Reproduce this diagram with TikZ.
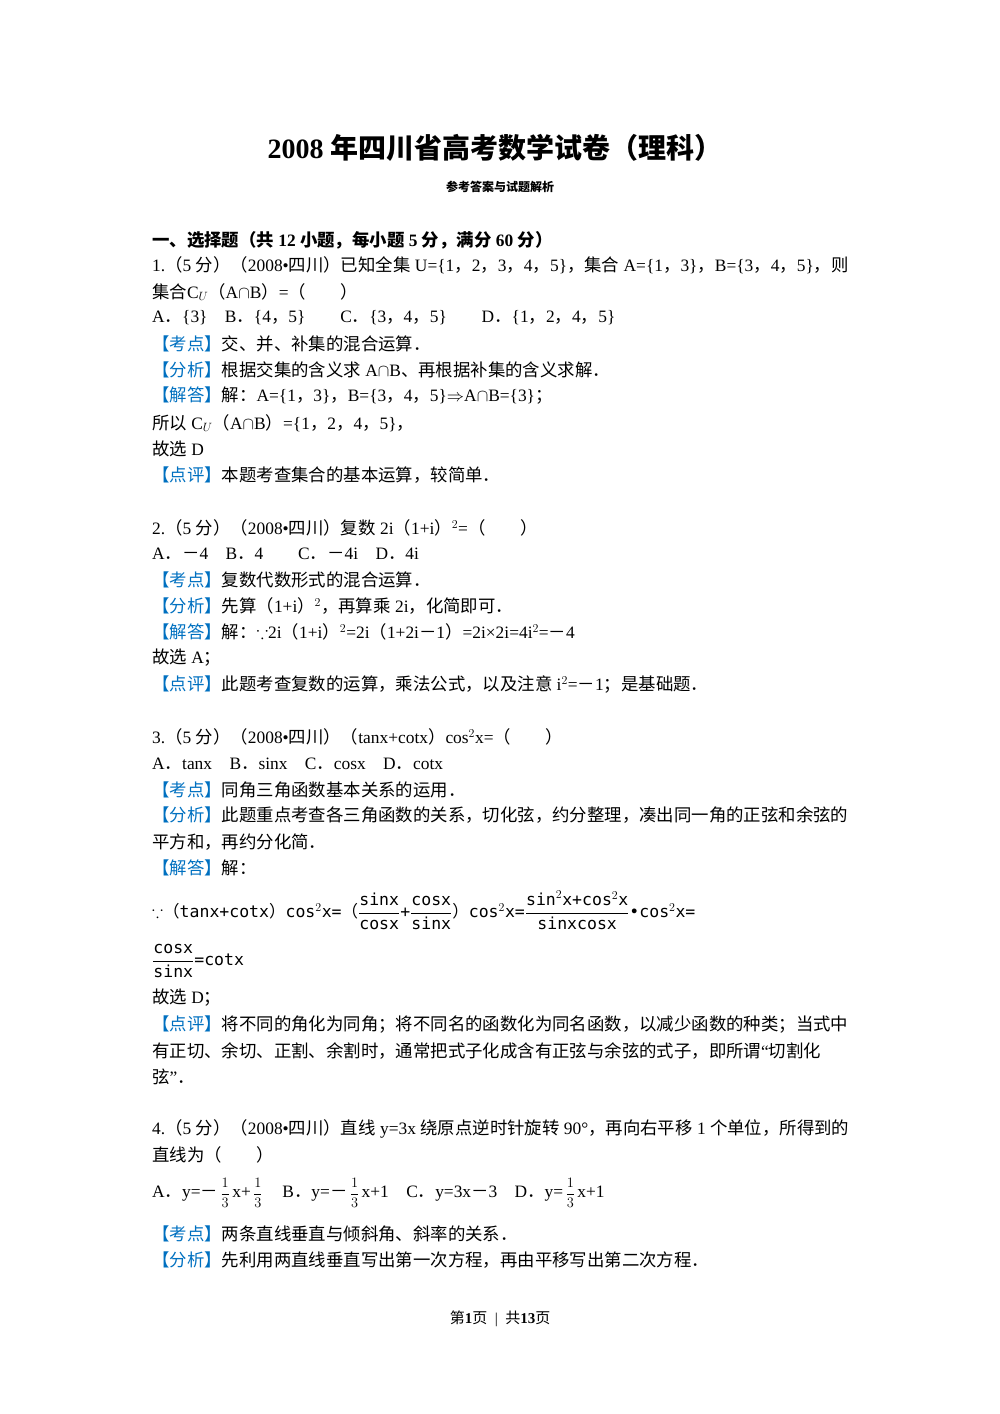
\documentclass[tikz,border=0pt]{standalone}
\usepackage{amsmath,amssymb}
\usepackage{fontspec}
\setmainfont{Liberation Serif}
\newfontfamily\cjk{Noto Sans CJK SC}
\newfontfamily\frm{DejaVu Sans Mono}
\XeTeXinterchartokenstate=1
\newXeTeXintercharclass\CJKcls
\newcount\cc
\cc="3000 \loop \XeTeXcharclass\cc=\CJKcls \ifnum\cc<"303F \advance\cc 1 \repeat
\cc="4E00 \loop \XeTeXcharclass\cc=\CJKcls \ifnum\cc<"9FFF \advance\cc 1 \repeat
\cc="FF00 \loop \XeTeXcharclass\cc=\CJKcls \ifnum\cc<"FFEF \advance\cc 1 \repeat
\XeTeXinterchartoks 0 \CJKcls={\begingroup\cjk}
\XeTeXinterchartoks 4095 \CJKcls={\begingroup\cjk}
\XeTeXinterchartoks \CJKcls 0={\endgroup}
\XeTeXinterchartoks \CJKcls 4095={\endgroup}
\definecolor{kblue}{RGB}{0,112,192}
\newcommand\kd[1]{{\color{kblue}【#1】}}
\newcommand\thr{{\fontsize{15}{18}\selectfont$\,\dfrac{1}{3}\,$}}
\tikzset{ln/.style={anchor=west,inner sep=0pt,font=\fontsize{17.4}{20}\selectfont},
 ctr/.style={anchor=center,inner sep=0pt}}
\begin{document}
\begin{tikzpicture}[x=1pt,y=-1pt]
\useasboundingbox (0,0) rectangle (1000,1414);
\node[ctr,font=\fontsize{28}{32}\selectfont\bfseries] (t) at (495,148) {2008 年四川省高考数学试卷（理科）};
\node[ctr,font=\fontsize{12}{14}\selectfont\bfseries] (st) at (500,187) {参考答案与试题解析};
\node[ln,font=\fontsize{17.4}{20}\selectfont\bfseries] (h) at (152,240) {一、选择题（共 12 小题，每小题 5 分，满分 60 分）};
\node[ln] (l1) at (152,265) {1.（5 分）（2008•四川）已知全集 U=\{1，2，3，4，5\}，集合 A=\{1，3\}，B=\{3，4，5\}，则};
\node[ln] (l2) at (152,292) {集合C$_U$（A$\cap$B）=（　　）};
\node[ln] (l3) at (152,318) {A．\{3\}　B．\{4，5\}　　C．\{3，4，5\}　　D．\{1，2，4，5\}};
\node[ln] (l4) at (152,344) {\kd{考点}交、并、补集的混合运算．};
\node[ln] (l5) at (152,370) {\kd{分析}根据交集的含义求 A$\cap$B、再根据补集的含义求解．};
\node[ln] (l6) at (152,396) {\kd{解答}解：A=\{1，3\}，B=\{3，4，5\}$\Rightarrow$A$\cap$B=\{3\}；};
\node[ln] (l7) at (152,423) {所以 C$_U$（A$\cap$B）=\{1，2，4，5\}，};
\node[ln] (l8) at (152,449) {故选 D};
\node[ln] (l9) at (152,475) {\kd{点评}本题考查集合的基本运算，较简单．};
\node[ln] (m1) at (152,528) {2.（5 分）（2008•四川）复数 2i（1+i）$^2$=（　　）};
\node[ln] (m2) at (152,554) {A．－4　B．4　　C．－4i　D．4i};
\node[ln] (m3) at (152,580) {\kd{考点}复数代数形式的混合运算．};
\node[ln] (m4) at (152,606) {\kd{分析}先算（1+i）$^2$，再算乘 2i，化简即可．};
\node[ln] (m5) at (152,632) {\kd{解答}解：$\because$2i（1+i）$^2$=2i（1+2i－1）=2i×2i=4i$^2$=－4};
\node[ln] (m6) at (152,658) {故选 A；};
\node[ln] (m7) at (152,685) {\kd{点评}此题考查复数的运算，乘法公式，以及注意 i$^2$=－1；是基础题．};
\node[ln] (n1) at (152,737) {3.（5 分）（2008•四川）（tanx+cotx）cos$^2$x=（　　）};
\node[ln] (n2) at (152,764) {A．tanx　B．sinx　C．cosx　D．cotx};
\node[ln] (n3) at (152,790) {\kd{考点}同角三角函数基本关系的运用．};
\node[ln] (n4) at (152,815) {\kd{分析}此题重点考查各三角函数的关系，切化弦，约分整理，凑出同一角的正弦和余弦的};
\node[ln] (n5) at (152,842) {平方和，再约分化简．};
\node[ln] (n6) at (152,868) {\kd{解答}解：};
\node[ln,font=\fontsize{16.5}{20}\selectfont\frm] (n7) at (152,910) {$\because$（tanx+cotx）cos$^2$x=（$\dfrac{\text{sinx}}{\text{cosx}}$+$\dfrac{\text{cosx}}{\text{sinx}}$）cos$^2$x=$\dfrac{\text{sin}^2\text{x+cos}^2\text{x}}{\text{sinxcosx}}$•cos$^2$x=};
\node[ln,font=\fontsize{16.5}{20}\selectfont\frm] (n8) at (152,961) {$\dfrac{\text{cosx}}{\text{sinx}}$=cotx};
\node[ln] (n9) at (152,998) {故选 D；};
\node[ln] (n10) at (152,1025) {\kd{点评}将不同的角化为同角；将不同名的函数化为同名函数，以减少函数的种类；当式中};
\node[ln] (n11) at (152,1051) {有正切、余切、正割、余割时，通常把式子化成含有正弦与余弦的式子，即所谓“切割化};
\node[ln] (n12) at (152,1077) {弦”．};
\node[ln] (p1) at (152,1129) {4.（5 分）（2008•四川）直线 y=3x 绕原点逆时针旋转 90°，再向右平移 1 个单位，所得到的};
\node[ln] (p2) at (152,1155) {直线为（　　）};
\node[ln] (p3) at (152,1193) {A．y=－\thr x+\thr　B．y=－\thr x+1　C．y=3x－3　D．y=\thr x+1};
\node[ln] (p4) at (152,1234) {\kd{考点}两条直线垂直与倾斜角、斜率的关系．};
\node[ln] (p5) at (152,1260) {\kd{分析}先利用两直线垂直写出第一次方程，再由平移写出第二次方程．};
\node[ctr,font=\fontsize{15}{18}\selectfont] (f) at (500,1319) {第\textbf{1}页 \ | \ 共\textbf{13}页};
\end{tikzpicture}
\end{document}
